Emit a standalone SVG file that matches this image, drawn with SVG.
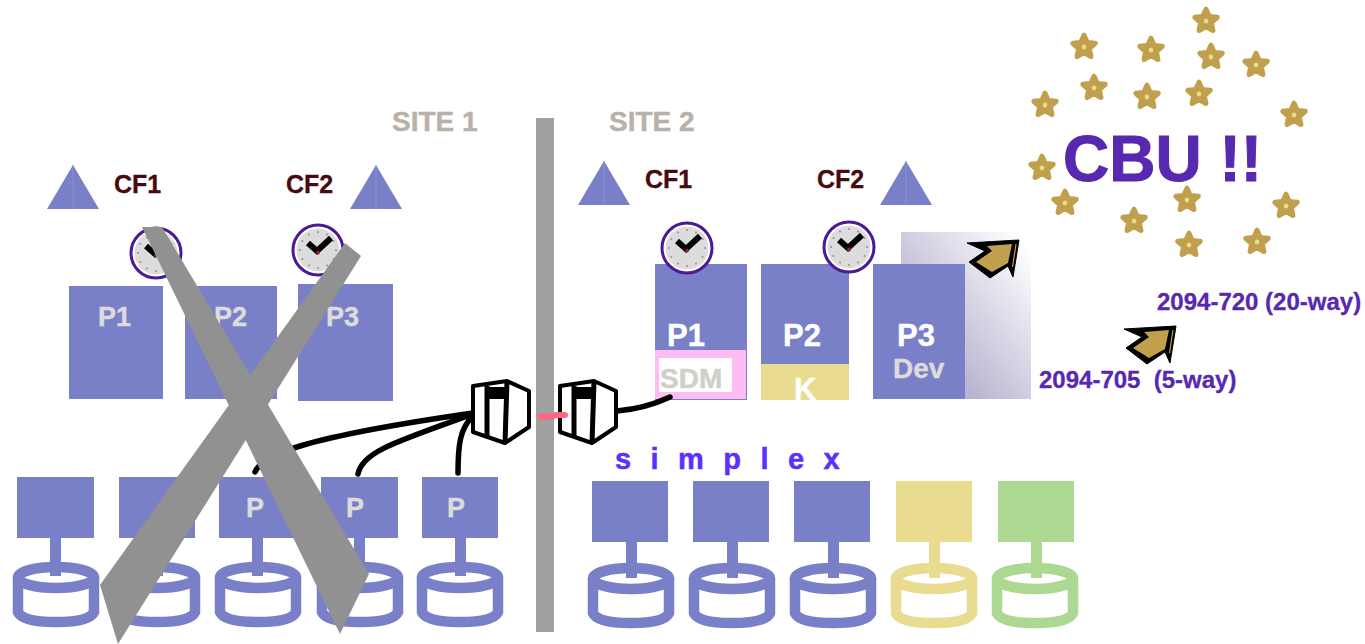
<svg xmlns="http://www.w3.org/2000/svg" width="1365" height="644" viewBox="0 0 1365 644">
<style>
text{font-family:"Liberation Sans",Arial,sans-serif;font-weight:bold}
.b{fill:#7a80c8}
.y{fill:#e9db90}
.g{fill:#add891}
.site{font-size:28px;fill:#b9b1a9;stroke:#b9b1a9;stroke-width:.4px}
.cf{font-size:25px;fill:#470a10;stroke:#470a10;stroke-width:.3px}
.pl{font-size:27px;fill:#dcdcdc;stroke:#dcdcdc;stroke-width:.4px}
.pw{font-size:31px;fill:#fff;stroke:#fff;stroke-width:.4px}
.pb{font-size:27px;fill:#dcdcdc;stroke:#dcdcdc;stroke-width:.4px}
.m{font-size:24px;fill:#5728b0;stroke:#5728b0;stroke-width:.3px;white-space:pre}
.conn{fill:none;stroke:#000;stroke-width:5.500;stroke-linecap:round}
.dk{fill:none;stroke-width:10.500}
.db{stroke:#7a80c8}
.dy{stroke:#e9db90}
.dg{stroke:#add891}
</style>
<defs>
<linearGradient id="grad" x1="0" y1="1" x2="1" y2="0"><stop offset="0" stop-color="#9a95bd"/><stop offset=".95" stop-color="#fff"/></linearGradient>
<g id="disk"><ellipse cx="0" cy="15.500" rx="38" ry="10.500"/><path d="M-38 15V50Q-34 60 0 60T38 50V15"/></g>
<g id="clock">
<circle r="25" fill="#fff" stroke="#4b1a94" stroke-width="3"/>
<circle r="21.500" fill="#dcdcdc"/>
<g fill="#a08a90"><circle cx="0" cy="-18" r="1"/><circle cx="9" cy="-15.600" r="1"/><circle cx="15.600" cy="-9" r="1"/><circle cx="18" cy="0" r="1"/><circle cx="15.600" cy="9" r="1"/><circle cx="9" cy="15.600" r="1"/><circle cx="0" cy="18" r="1"/><circle cx="-9" cy="15.600" r="1"/><circle cx="-15.600" cy="9" r="1"/><circle cx="-18" cy="0" r="1"/><circle cx="-15.600" cy="-9" r="1"/><circle cx="-9" cy="-15.600" r="1"/></g>
<path d="M-10 -7L-1 1L13 -12" fill="none" stroke="#000" stroke-width="6"/>
<circle cy="2.500" r="2" fill="#a01060"/>
</g>
<g id="star" transform="scale(1.120)"><polygon points="0,-10.500 2.940,-4.050 9.990,-3.240 4.760,1.550 6.170,8.490 0,5 -6.170,8.490 -4.760,1.550 -9.990,-3.240 -2.940,-4.050" fill="#c0a04c" stroke="#c0a04c" stroke-width="4.500" stroke-linejoin="round"/><polygon points="0,-2.400 2.200,-.8 1.400,1.900 -1.400,1.900 -2.200,-.8" fill="#e9db90"/></g>
<g id="arrow"><polygon points="967,243 1019,240 1013,277 1008,266 990,278 969,262 985,251" fill="#000" stroke="#000" stroke-width="1" stroke-linejoin="round"/><polygon points="987,246 1012,244 1008,263 992,272 976,262 992,251" fill="#c0a04c"/><path d="M1016 244L1012.500 267" stroke="#c0a04c" stroke-width="1.200"/></g>
<g id="server"><path d="M473 386L507 381L529 391V427L505 443L473 432Z" fill="#fff" stroke="#000" stroke-width="4" stroke-linejoin="round"/><path d="M507 381L505 443" stroke="#000" stroke-width="5"/><path d="M487 386V436" stroke="#000" stroke-width="5"/><rect x="489" y="387" width="16" height="12" fill="#000"/></g>
<polygon id="tri" points="-26,44 0,0 26,44" fill="#7a80c8"/>
</defs>

<rect id="site-divider" x="536" y="118" width="18" height="514" fill="#a0a0a0"/>
<text class="site" x="392" y="131">SITE 1</text>
<text class="site" x="609" y="131">SITE 2</text>

<g id="cf-left-1"><use href="#tri" x="73" y="165"/><path d="M73 165V209" stroke="#8a90d0" stroke-width="1"/><text class="cf" x="114" y="193">CF1</text></g>
<g id="cf-left-2"><use href="#tri" x="376" y="165"/><path d="M376 165V209" stroke="#8a90d0" stroke-width="1"/><text class="cf" x="286" y="193">CF2</text></g>
<g id="cf-right-1"><use href="#tri" x="604" y="161"/><path d="M604 161V204" stroke="#8a90d0" stroke-width="1"/><text class="cf" x="645" y="188">CF1</text></g>
<g id="cf-right-2"><use href="#tri" x="906" y="161"/><path d="M906 161V204" stroke="#8a90d0" stroke-width="1"/><text class="cf" x="817" y="188">CF2</text></g>

<g id="lp-left-1"><rect class="b" x="69" y="286" width="94" height="113"/><text class="pl" x="98" y="326">P1</text></g>
<g id="lp-left-2"><rect class="b" x="185" y="286" width="92" height="113"/><text class="pl" x="214" y="326">P2</text></g>
<g id="lp-left-3"><rect class="b" x="298" y="284" width="95" height="117"/><text class="pl" x="326" y="326">P3</text></g>
<use id="clock-1" href="#clock" x="156" y="253"/>
<use id="clock-2" href="#clock" x="318" y="250"/>

<g id="lp-right-1"><rect class="b" x="655" y="264" width="92" height="136"/><rect x="655" y="350" width="91" height="49" fill="#fdbdf2"/><rect x="659" y="358" width="73" height="34" fill="#fff"/><text class="pw" x="667" y="346">P1</text><text x="660" y="388" font-size="28" fill="#d0d0c8" stroke="#d0d0c8" stroke-width=".5">SDM</text></g>
<g id="lp-right-2"><rect class="b" x="761" y="264" width="88" height="100"/><rect class="y" x="761" y="364" width="88" height="36"/><text class="pw" x="783" y="346">P2</text><text class="pw" x="794" y="400">K</text></g>
<g id="dev-shadow"><rect x="901" y="232" width="130" height="167" fill="url(#grad)"/></g>
<g id="lp-right-3"><rect class="b" x="873" y="264" width="92" height="135"/><text class="pw" x="897" y="346">P3</text><text x="893" y="378" font-size="28" fill="#dcdcdc" stroke="#dcdcdc" stroke-width=".4">Dev</text></g>
<use id="clock-3" href="#clock" x="687" y="248"/>
<use id="clock-4" href="#clock" x="849" y="247"/>

<g id="connectors">
<path class="conn" d="M255 472C262 455 300 438 473 413"/>
<path class="conn" d="M358 474C362 452 395 442 473 414"/>
<path class="conn" d="M458 473C458 445 460 428 473 416"/>
<path class="conn" d="M617 411C640 409 655 404 670 397"/>
</g>
<use id="storage-director-1" href="#server"/>
<use id="storage-director-2" href="#server" x="87"/>
<path id="link" d="M540 416.500L552 416.500L556 415L565 415" fill="none" stroke="#ff6680" stroke-width="6" stroke-linecap="round"/>

<g id="sys-l1"><rect class="b" x="17" y="477" width="77" height="61"/><rect class="b" x="50" y="538" width="11" height="38"/><use href="#disk" x="56" y="562" class="dk db"/></g>
<g id="sys-l2"><rect class="b" x="119" y="477" width="76" height="61"/><rect class="b" x="152" y="538" width="11" height="38"/><use href="#disk" x="157" y="562" class="dk db"/></g>
<g id="sys-l3"><rect class="b" x="219" y="477" width="76" height="61"/><rect class="b" x="252" y="538" width="11" height="38"/><use href="#disk" x="258" y="562" class="dk db"/><text class="pb" x="246" y="517">P</text></g>
<g id="sys-l4"><rect class="b" x="321" y="477" width="77" height="61"/><rect class="b" x="354" y="538" width="11" height="38"/><use href="#disk" x="360" y="562" class="dk db"/><text class="pb" x="346" y="517">P</text></g>
<g id="sys-l5"><rect class="b" x="422" y="477" width="76" height="61"/><rect class="b" x="455" y="538" width="11" height="38"/><use href="#disk" x="460" y="562" class="dk db"/><text class="pb" x="447" y="517">P</text></g>

<text x="615" y="469" font-size="29" fill="#5a30ff" stroke="#5a30ff" stroke-width=".5" letter-spacing="5.700">s i m p l e x</text>

<g id="sys-r1"><rect class="b" x="592" y="481" width="76" height="61"/><rect class="b" x="626" y="542" width="11" height="36"/><use href="#disk" x="631" y="563" class="dk db"/></g>
<g id="sys-r2"><rect class="b" x="693" y="481" width="76" height="61"/><rect class="b" x="727" y="542" width="11" height="36"/><use href="#disk" x="732" y="563" class="dk db"/></g>
<g id="sys-r3"><rect class="b" x="794" y="481" width="76" height="61"/><rect class="b" x="828" y="542" width="11" height="36"/><use href="#disk" x="833" y="563" class="dk db"/></g>
<g id="sys-r4"><rect class="y" x="896" y="481" width="76" height="61"/><rect class="y" x="929" y="542" width="11" height="36"/><use href="#disk" x="934" y="563" class="dk dy"/></g>
<g id="sys-r5"><rect class="g" x="998" y="481" width="76" height="61"/><rect class="g" x="1031" y="542" width="11" height="36"/><use href="#disk" x="1035" y="563" class="dk dg"/></g>

<g id="x-mark" fill="#919191">
<polygon points="142,227 162,227 369,574 340,634"/>
<polygon points="345,243 361,256 118,644 100,585"/>
</g>

<g id="stars">
<use href="#star" x="1206" y="21"/><use href="#star" x="1084" y="47"/><use href="#star" x="1151" y="50"/><use href="#star" x="1211" y="57"/><use href="#star" x="1256" y="65"/><use href="#star" x="1094" y="88"/><use href="#star" x="1147" y="97"/><use href="#star" x="1199" y="94"/><use href="#star" x="1045" y="105"/><use href="#star" x="1294" y="115"/><use href="#star" x="1042" y="168"/><use href="#star" x="1065" y="203"/><use href="#star" x="1187" y="200"/><use href="#star" x="1286" y="206"/><use href="#star" x="1134" y="221"/><use href="#star" x="1189" y="245"/><use href="#star" x="1257" y="242"/>
</g>
<text x="1063" y="181" font-size="64" fill="#5728b0" stroke="#5728b0" stroke-width="1">CBU !!</text>

<use id="arrow-1" href="#arrow"/>
<use id="arrow-2" href="#arrow" x="157" y="86"/>
<text class="m" x="1157" y="310">2094-720 (20-way)</text>
<text class="m" x="1039" y="388">2094-705  (5-way)</text>
</svg>
